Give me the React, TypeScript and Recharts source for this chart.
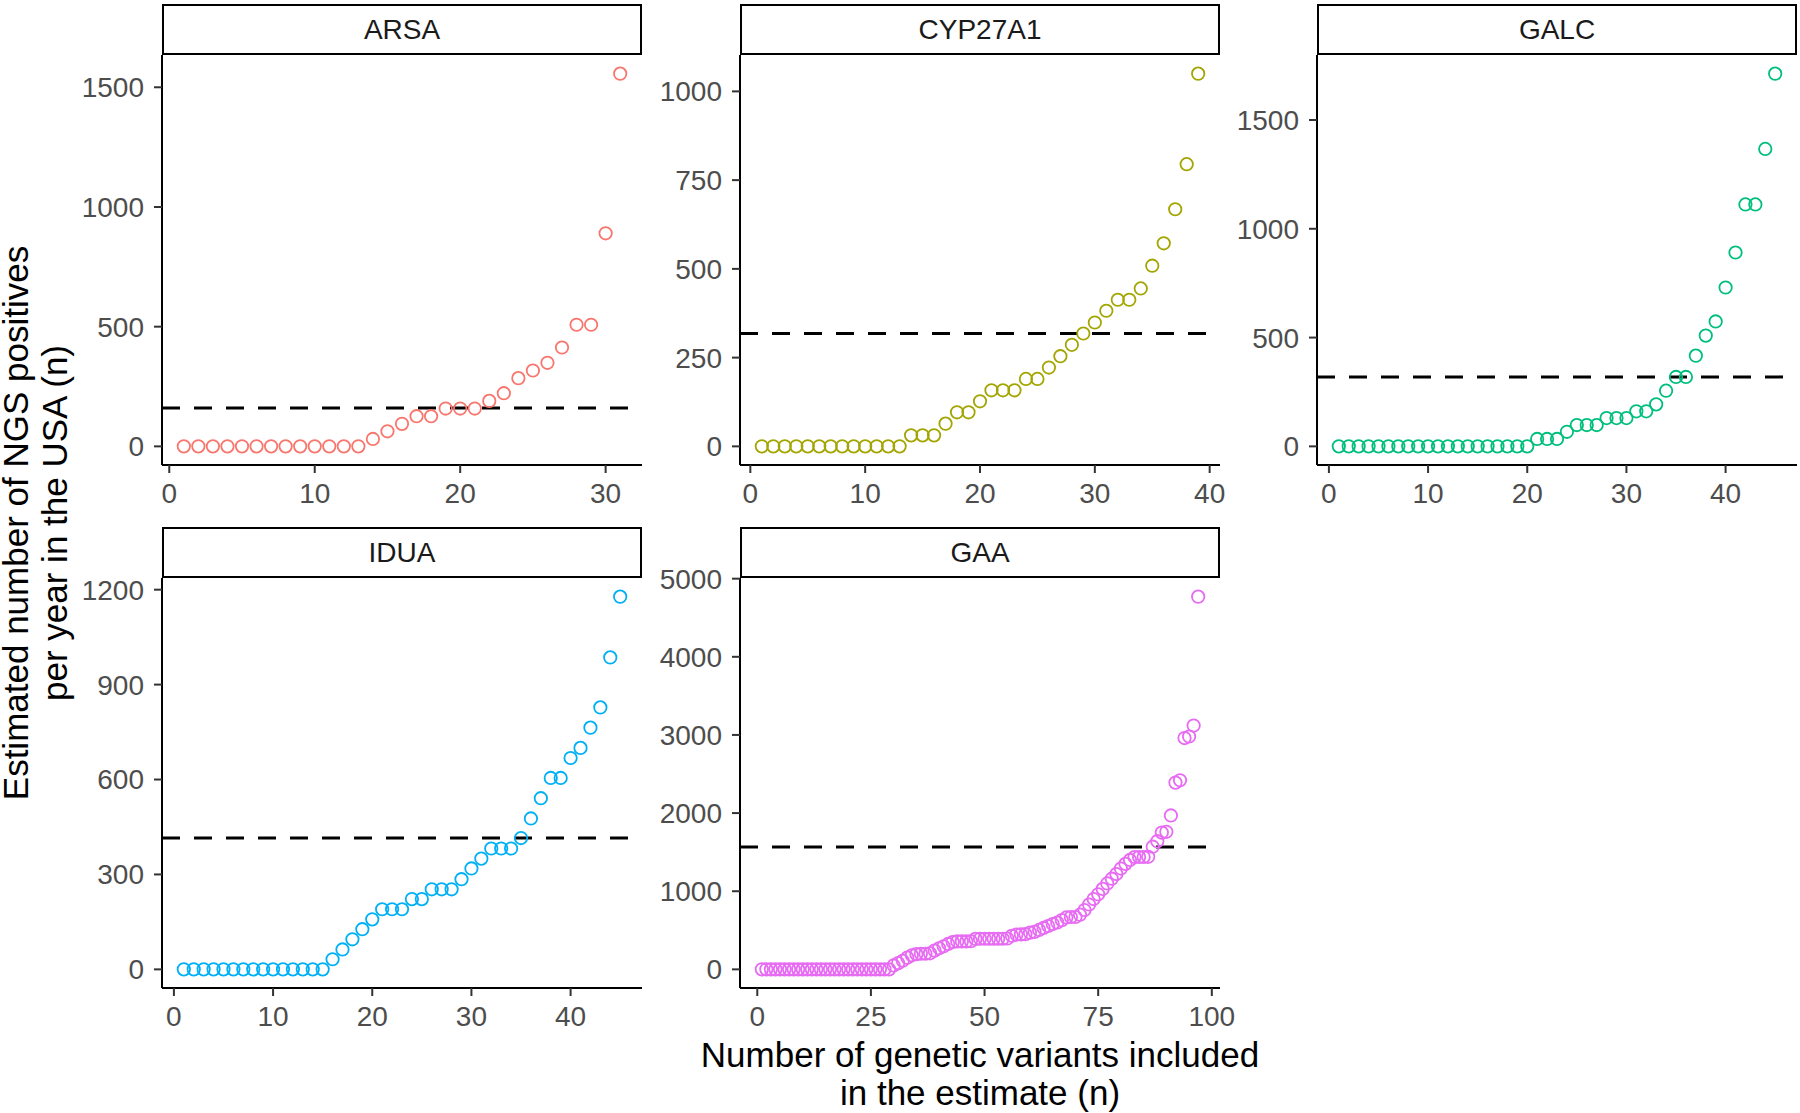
import React from 'react';
import { ScatterChart, Scatter, XAxis, YAxis, ReferenceLine } from 'recharts';

// Estimated NGS positives per year, by number of variants included (x = 1..n)
const arsaValues = [
  0, 0, 0, 0, 0, 0, 0, 0, 0, 0, 0, 0, 0,
  31, 63, 94, 126, 126, 158, 158, 158, 190, 222, 285, 317, 349, 413, 508, 508, 890, 1557,
];
const cyp27a1Values = [
  0, 0, 0, 0, 0, 0, 0, 0, 0, 0, 0, 0, 0,
  31, 31, 31, 64, 96, 96, 127, 158, 158, 158, 190, 190, 222, 254, 286, 318, 349, 382,
  413, 413, 445, 509, 572, 668, 795, 1050,
];
const galcValues = [
  0, 0, 0, 0, 0, 0, 0, 0, 0, 0, 0, 0, 0, 0, 0, 0, 0, 0, 0, 0,
  34, 34, 34, 67, 98, 98, 98, 130, 130, 130, 161, 161, 193, 256, 319, 319, 417, 509,
  574, 730, 891, 1112, 1112, 1367, 1713,
];
const iduaValues = [
  0, 0, 0, 0, 0, 0, 0, 0, 0, 0, 0, 0, 0, 0, 0,
  32, 63, 95, 127, 158, 190, 190, 190, 222, 222, 253, 253, 253, 285, 319, 350, 382, 382,
  382, 415, 477, 541, 605, 605, 668, 700, 764, 828, 986, 1178,
];
const gaaValues = [
  0, 0, 0, 0, 0, 0, 0, 0, 0, 0, 0, 0, 0, 0, 0, 0, 0, 0, 0, 0, 0, 0, 0, 0, 0, 0, 0, 0, 0,
  50, 80, 110, 150, 180, 195, 200, 200, 205, 240, 270, 295, 325, 350, 358, 358, 358, 360,
  390, 392, 392, 392, 392, 392, 392, 395, 430, 445, 448, 450, 470, 480, 505, 530, 555, 580,
  600, 630, 665, 670, 670, 700, 760, 830, 900, 960, 1030, 1100, 1160, 1220, 1290, 1350, 1400,
  1438, 1438, 1438, 1440, 1570, 1640, 1750, 1760, 1970, 2390, 2420, 2960, 2980, 3120, 4770,
];

// dashed reference levels
const thresholds = { ARSA: 160, CYP27A1: 318, GALC: 319, IDUA: 415, GAA: 1566 };

const xTicks40 = [0, 10, 20, 30, 40];
const arsaXTicks = [0, 10, 20, 30];
const gaaXTicks = [0, 25, 50, 75, 100];
const arsaYTicks = [0, 500, 1000, 1500];
const cypYTicks = [0, 250, 500, 750, 1000];
const galcYTicks = [0, 500, 1000, 1500];
const iduaYTicks = [0, 300, 600, 900, 1200];
const gaaYTicks = [0, 1000, 2000, 3000, 4000, 5000];

const FONT = '"Liberation Sans", Arial, Helvetica, sans-serif';
const PW = 480; // panel width
const PH = 410; // panel height
const AXW = 110; // y axis area
const AXH = 50; // x axis area
const PAD_T = 24; // room for top tick label
const PAD_R = 40; // room for last x tick label
const STRIP_H = 51;

type PanelDef = {
  name: string;
  values: number[];
  color: string;
  threshold: number;
  xTicks: number[];
  yTicks: number[];
  left: number;
  top: number;
};

const panels: PanelDef[] = [
  { name: 'ARSA', values: arsaValues, color: '#F8766D', threshold: thresholds.ARSA, xTicks: arsaXTicks, yTicks: arsaYTicks, left: 162, top: 55 },
  { name: 'CYP27A1', values: cyp27a1Values, color: '#A3A500', threshold: thresholds.CYP27A1, xTicks: xTicks40, yTicks: cypYTicks, left: 740, top: 55 },
  { name: 'GALC', values: galcValues, color: '#00BF7D', threshold: thresholds.GALC, xTicks: xTicks40, yTicks: galcYTicks, left: 1317, top: 55 },
  { name: 'IDUA', values: iduaValues, color: '#00B0F6', threshold: thresholds.IDUA, xTicks: xTicks40, yTicks: iduaYTicks, left: 162, top: 578 },
  { name: 'GAA', values: gaaValues, color: '#E76BF3', threshold: thresholds.GAA, xTicks: gaaXTicks, yTicks: gaaYTicks, left: 740, top: 578 },
];

// ggplot-style 5% expansion
const expand = (lo: number, hi: number): [number, number] => {
  const d = (hi - lo) * 0.05;
  return [lo - d, hi + d];
};

const tickStyle = { fontSize: 28, fill: '#4D4D4D', fontFamily: FONT };

function FacetPanel({ p }: { p: PanelDef }) {
  const data = p.values.map((y, i) => ({ x: i + 1, y }));
  const xDomain = expand(1, p.values.length);
  const yDomain = expand(0, Math.max(...p.values));

  return (
    <>
      <div style={{ position: 'absolute', left: p.left - AXW, top: p.top - PAD_T }}>
        <ScatterChart
          width={AXW + PW + PAD_R}
          height={PAD_T + PH + AXH}
          margin={{ top: PAD_T, right: PAD_R, bottom: 0, left: 0 }}
        >
          <XAxis
            type="number"
            dataKey="x"
            domain={xDomain}
            ticks={p.xTicks}
            interval={0}
            allowDataOverflow
            height={AXH}
            tickSize={8}
            tickMargin={10}
            axisLine={{ stroke: '#000', strokeWidth: 2 }}
            tickLine={{ stroke: '#333', strokeWidth: 2 }}
            tick={tickStyle}
          />
          <YAxis
            type="number"
            dataKey="y"
            domain={yDomain}
            ticks={p.yTicks}
            interval={0}
            allowDataOverflow
            width={AXW}
            tickSize={8}
            tickMargin={10}
            axisLine={{ stroke: '#000', strokeWidth: 2 }}
            tickLine={{ stroke: '#333', strokeWidth: 2 }}
            tick={tickStyle}
          />
          <ReferenceLine y={p.threshold} stroke="#000" strokeWidth={3} strokeDasharray="18 14" />
          <Scatter
            data={data}
            isAnimationActive={false}
            shape={(props: any) => (
              <circle cx={props.cx} cy={props.cy} r={6.2} fill="none" stroke={p.color} strokeWidth={1.8} />
            )}
          />
        </ScatterChart>
      </div>
      {/* strip */}
      <div
        style={{
          position: 'absolute',
          left: p.left,
          top: p.top - STRIP_H,
          width: PW,
          height: STRIP_H,
          border: '2px solid #000',
          boxSizing: 'border-box',
          background: '#fff',
          display: 'flex',
          alignItems: 'center',
          justifyContent: 'center',
          fontSize: 28,
          color: '#1A1A1A',
        }}
      >
        {p.name}
      </div>
    </>
  );
}

export default function App() {
  return (
    <div
      style={{
        position: 'absolute',
        left: 0,
        top: 0,
        width: 1800,
        height: 1113,
        background: '#fff',
        fontFamily: FONT,
        overflow: 'hidden',
      }}
    >
      {panels.map((p) => (
        <FacetPanel key={p.name} p={p} />
      ))}
      <svg width={1800} height={1113} style={{ position: 'absolute', left: 0, top: 0, pointerEvents: 'none' }}>
        <g fontFamily={FONT} fontSize={35} fill="#000" textAnchor="middle">
          <text transform="translate(28,523) rotate(-90)">Estimated number of NGS positives</text>
          <text transform="translate(67,523) rotate(-90)">per year in the USA (n)</text>
          <text x={980} y={1067}>Number of genetic variants included</text>
          <text x={980} y={1105}>in the estimate (n)</text>
        </g>
      </svg>
    </div>
  );
}
